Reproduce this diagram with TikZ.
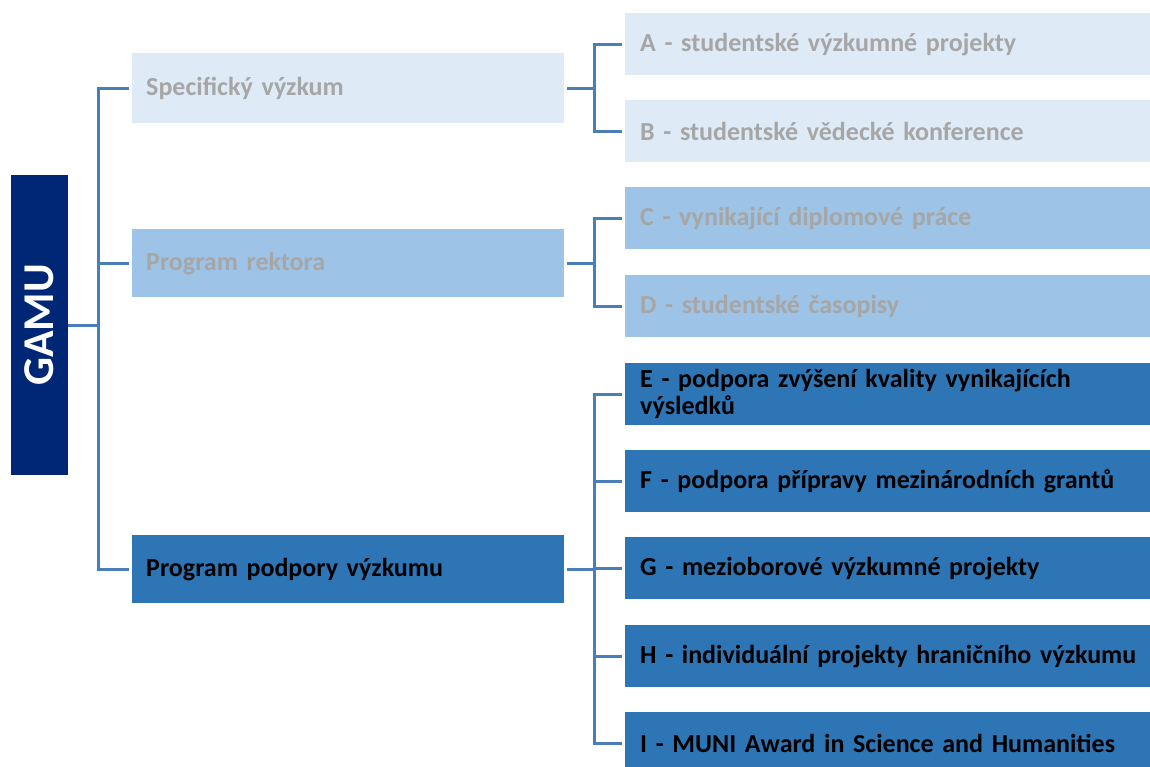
\documentclass[tikz,border=0pt]{standalone}
\usepackage{fontspec}
\setmainfont{Carlito}
\usetikzlibrary{positioning}
\definecolor{gamunavy}{RGB}{0,38,118}
\definecolor{lightfill}{RGB}{222,234,246}
\definecolor{midfill}{RGB}{157,195,230}
\definecolor{darkfill}{RGB}{46,117,182}
\definecolor{greytext}{RGB}{166,166,166}
\definecolor{connblue}{RGB}{74,126,187}
\tikzset{
  gamu/.style = {fill=gamunavy, text=white, rotate=90, minimum width=300pt, minimum height=57pt, inner sep=0, font=\bfseries\fontsize{44}{48}\selectfont},
  item/.style = {anchor=north west, inner xsep=14pt, inner ysep=0, align=left, font=\bfseries\fontsize{26}{27}\selectfont},
  mid/.style = {item, text width=404pt, minimum height=#1},
  sub/.style = {item, inner xsep=15pt, text width=540pt, minimum height=62pt},
  conn/.style = {draw=connblue, line width=3pt}
}

\begin{document}
\begin{tikzpicture}[x=1pt, y=-1pt]
    \useasboundingbox (0, 0) rectangle (1150, 766);
    \clip (0, 0) rectangle (1150, 766);

    \node [gamu] (gamu) at (39.5, 325) {GAMU};

    \node [mid=70pt, fill=lightfill, text=greytext] (spec) at (132, 53) {Specifický výzkum};
    \node [mid=68pt, fill=midfill, text=greytext] (rekt) at (132, 229) {Program rektora};
    \node [mid=68pt, fill=darkfill, text=black] (podp) at (132, 535) {Program podpory výzkumu};

    \foreach \n/\y/\c/\tc/\s in {
        a/13/lightfill/greytext/{A - studentské výzkumné projekty},
        b/100/lightfill/greytext/{B - studentské vědecké konference},
        c/187/midfill/greytext/{C - vynikající diplomové práce},
        d/275/midfill/greytext/{D - studentské časopisy},
        e/363/darkfill/black/{E - podpora zvýšení kvality vynikajících\\výsledků},
        f/450/darkfill/black/{F - podpora přípravy mezinárodních grantů},
        g/537/darkfill/black/{G - mezioborové výzkumné projekty},
        h/625/darkfill/black/{H - individuální projekty hraničního výzkumu},
        i/712/darkfill/black/{I - MUNI Award in Science and Humanities}} {
      \node [sub, fill=\c, text=\tc] (\n) at (625, \y) {\s};
    }

    \draw [conn] (gamu.south) -- ++(30, 0);
    \draw [conn] (spec.west) ++(-3, 0) -- ++(-31, 0) |- ([xshift=-3pt]podp.west);
    \draw [conn] (rekt.west) ++(-3, 0) -- ++(-31, 0);

    \draw [conn] (spec.east) ++(3, 0) -- ++(27, 0);
    \draw [conn] ([xshift=-3pt]a.west) -| ([xshift=30pt]spec.east) |- ([xshift=-3pt]b.west);
    \draw [conn] (rekt.east) ++(3, 0) -- ++(27, 0);
    \draw [conn] ([xshift=-3pt]c.west) -| ([xshift=30pt]rekt.east) |- ([xshift=-3pt]d.west);
    \draw [conn] (podp.east) ++(3, 0) -- ++(27, 0);
    \draw [conn] ([xshift=-3pt]e.west) -| ([xshift=30pt]podp.east) |- ([xshift=-3pt]i.west);
    \foreach \n in {f, g, h} {
      \draw [conn] ([xshift=-3pt]\n.west) -- ++(-28, 0);
    }
\end{tikzpicture}
\end{document}
